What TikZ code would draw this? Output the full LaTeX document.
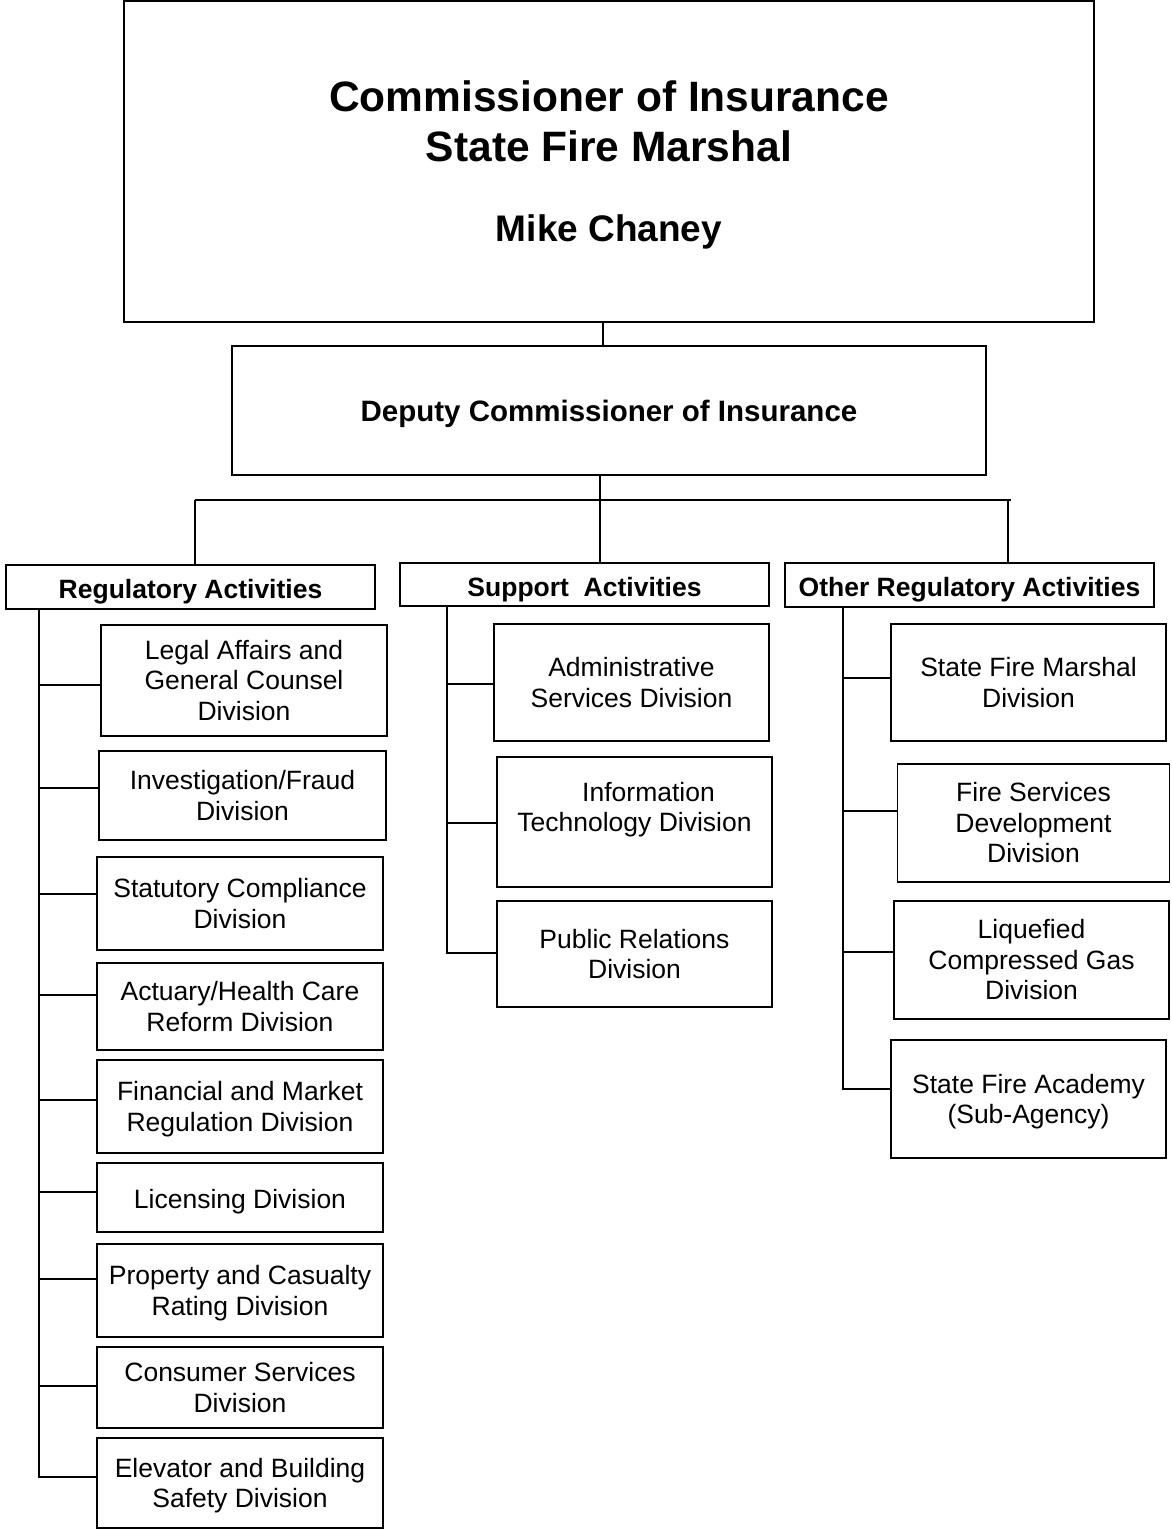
\documentclass[tikz,border=0pt]{standalone}
\usepackage{fontspec}
\setmainfont{Liberation Sans}
\newcommand\zerodepth[1]{\raisebox{0pt}[\height][0pt]{#1}}
\begin{document}
\tikzset{
  box/.style={draw, line width=1.8pt, inner sep=0pt, align=center,
    font=\fontsize{26.5}{30.5}\selectfont},
  divbox/.style={box, minimum width=286pt},
  sidebox/.style={box, minimum width=275pt},
  oneline/.style={text height=22pt, text depth=0pt},
  head/.style={box, minimum width=369pt, text height=23.5pt, text depth=0pt,
    font=\bfseries\fontsize{26.5}{30.5}\selectfont},
  conn/.style={line width=1.6pt},
}
\begin{tikzpicture}[x=1pt,y=-1pt]
\fill[white] (0,0) rectangle (1171,1529);
\useasboundingbox (0,0) rectangle (1171,1529);

% top levels
\node[box, minimum width=970pt, minimum height=321pt,
      font=\bfseries\fontsize{42.5}{50}\selectfont] (top) at (609,161.5)
      {Commissioner of Insurance\\State Fire Marshal\\[30pt]\zerodepth{\fontsize{37}{44}\selectfont Mike Chaney}};
\node[box, minimum width=754pt, minimum height=129pt, text height=22.2pt, text depth=0pt,
      font=\bfseries\fontsize{29.5}{34}\selectfont] (deputy) at (609,410.5)
      {Deputy Commissioner of Insurance};

% group headers
\node[head, minimum height=44pt] (reg) at (190.5,587) {Regulatory Activities};
\node[head, minimum height=43pt, text height=24pt] (sup) at (584.5,584.5) {Support\ \ Activities};
\node[head, minimum height=44pt] (oth) at (969.5,585) {Other Regulatory Activities};

% regulatory divisions
\node[divbox, minimum height=111pt] (l1) at (244,680.5) {Legal Affairs and\\General Counsel\\Division};
\node[divbox, minimum width=287pt, minimum height=89pt] (l2) at (242.5,795.5) {Investigation/Fraud\\Division};
\node[divbox, minimum height=93pt] (l3) at (240,903.5) {Statutory Compliance\\Division};
\node[divbox, minimum height=87pt] (l4) at (240,1006.5) {Actuary/Health Care\\Reform Division};
\node[divbox, minimum height=93pt] (l5) at (240,1106.5) {Financial and Market\\\zerodepth{Regulation Division}};
\node[divbox, minimum height=69pt, oneline] (l6) at (240,1197.5) {Licensing Division};
\node[divbox, minimum height=93pt] (l7) at (240,1290.5) {Property and Casualty\\\zerodepth{Rating Division}};
\node[divbox, minimum height=81pt] (l8) at (240,1387.5) {Consumer Services\\Division};
\node[divbox, minimum height=90pt] (l9) at (240,1483) {Elevator and Building\\\zerodepth{Safety Division}};

% support divisions
\node[sidebox, minimum height=117pt] (m1) at (631.5,682.5) {Administrative\\Services Division};
\node[sidebox, minimum height=130pt] (m2) at (634.5,822) {\hspace*{28pt}Information\\\zerodepth{Technology Division}\\\mbox{}};
\node[sidebox, minimum height=106pt] (m3) at (634.5,954) {Public Relations\\Division};

% other regulatory divisions
\node[sidebox, minimum height=117pt] (r1) at (1028.5,682.5) {State Fire Marshal\\Division};
\node[sidebox, minimum width=272pt, minimum height=118pt] (r2) at (1033.5,823) {Fire Services\\Development\\Division};
\node[sidebox, minimum height=118pt] (r3) at (1031.5,960) {Liquefied\\Compressed Gas\\Division};
\node[sidebox, minimum height=118pt] (r4) at (1028.5,1099) {State Fire Academy\\\zerodepth{(Sub-Agency)}};

% bus coordinates
\coordinate (bl) at (195,500);
\coordinate (br) at (1011,500);
\coordinate (brd) at (1008,500);
\coordinate (ltx) at (39,0);
\coordinate (mtx) at (447,0);
\coordinate (rtx) at (843,0);

% connectors between top levels
\draw[conn] ([xshift=-6pt]top.south) -- ([xshift=-6pt]deputy.north);
\draw[conn] ([xshift=-9pt]deputy.south) -- ([xshift=15.5pt]sup.north);
\draw[conn] (bl) -- (br);
\draw[conn] (bl) -- (bl |- reg.north);
\draw[conn] (brd) -- (brd |- oth.north);

% branch end points (on the west side of each box)
\foreach \n/\s in {l1/-4.5, l2/7.5, l3/9.5, l4/11.5, l5/6.5, l6/5.5, l7/11.5, l8/1.5, l9/6,
                   m1/-1.5, m2/-1, m3/1,
                   r1/4.5, r2/12, r3/8, r4/10}
  \coordinate (\n b) at ([yshift=\s pt]\n.west);

% left trunk and branches
\draw[conn] (ltx |- reg.south) |- (l9b);
\foreach \n in {l1,l2,l3,l4,l5,l6,l7,l8}
  \draw[conn] (ltx |- \n b) -- (\n b);

% middle trunk and branches
\draw[conn] (mtx |- sup.south) |- (m3b);
\foreach \n in {m1,m2}
  \draw[conn] (mtx |- \n b) -- (\n b);

% right trunk and branches
\draw[conn] (rtx |- oth.south) |- (r4b);
\foreach \n in {r1,r2,r3}
  \draw[conn] (rtx |- \n b) -- (\n b);
\end{tikzpicture}
\end{document}
